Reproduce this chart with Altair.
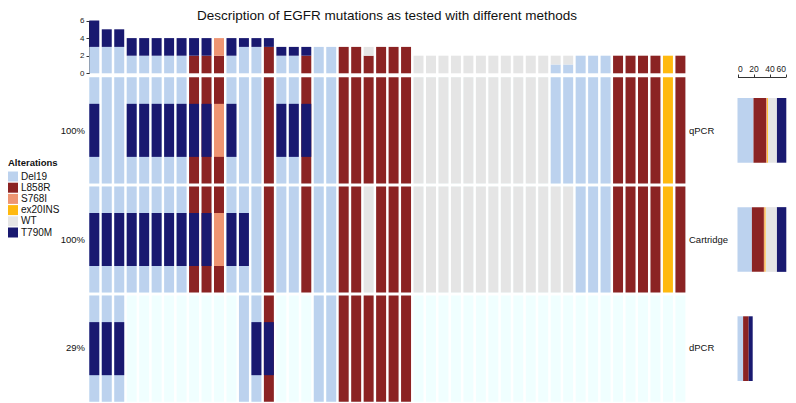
import altair as alt
import pandas as pd

# ---------------- data ----------------
alterations = ["Del19", "L858R", "S768I", "ex20INS", "WT", "T790M"]
alt_colors = ["#BCD2EE", "#8B2323", "#EE9572", "#FFB90F", "#E5E5E5", "#191970"]
empty_color = "#F0FFFF"

methods = ["qPCR", "Cartridge", "dPCR"]
tested_pct = ["100%", "100%", "29%"]
samples = [f"P{i + 1}" for i in range(48)]

D, L, S, X, W, T, N = "Del19", "L858R", "S768I", "ex20INS", "WT", "T790M", ""

# main call of each sample, per method
qpcr_main = [D, D, D, D, D, D, D, D, L, L, L, D, D, D, L, D, D, L, D, D, L, L, L, L, L, L] \
    + [W] * 11 + [D] * 5 + [L] * 4 + [X, L]
cart_main = [D] * 8 + [L, L, L, D, D, D, L, D, D, L, D, D, L, L, W, L, L, L] \
    + [W] * 13 + [D] * 3 + [L] * 4 + [X, L]
dpcr_main = [D, D, D] + [N] * 9 + [D, D, L, N, N, N, D, D] + [L] * 6 + [N] * 22

# second (co-occurring) call of each sample, per method
qpcr_band = [T, N, N, T, T, T, T, T, T, T, S, T, N, N, N, T, T, T] + [N] * 30
cart_band = [T] * 10 + [S, T, T] + [N] * 35
dpcr_band = [T, T, T] + [N] * 10 + [T, T] + [N] * 33

main_calls = {"qPCR": qpcr_main, "Cartridge": cart_main, "dPCR": dpcr_main}
band_calls = {"qPCR": qpcr_band, "Cartridge": cart_band, "dPCR": dpcr_band}

rows = []
for m in methods:
    for i, s in enumerate(samples):
        rows.append(dict(sample=s, method=m, main=main_calls[m][i], band=band_calls[m][i]))
cells = pd.DataFrame(rows)

calls = pd.concat([
    cells[["sample", "method", "main"]].rename(columns={"main": "alteration"}),
    cells[["sample", "method", "band"]].rename(columns={"band": "alteration"}),
])
calls = calls[calls["alteration"] != ""].copy()
calls["ord"] = calls["alteration"].map(alterations.index)
top_counts = calls.groupby(["sample", "alteration", "ord"]).size().reset_index(name="n")
side_counts = calls.groupby(["method", "alteration", "ord"]).size().reset_index(name="n")
pct_df = pd.DataFrame({"method": methods, "pct": tested_pct})

# ---------------- scales ----------------
FONT = "Liberation Sans"
x_cols = alt.Scale(domain=samples, range=[81.3, 677.4], paddingInner=0.2, paddingOuter=0)
y_rows = alt.Scale(domain=methods, range=[69.3, 393.7], paddingInner=0.028, paddingOuter=0)
y_top = alt.Scale(domain=[0, 6], range=[65.3, 12.5], nice=False)
x_side = alt.Scale(domain=[0, 60], range=[729.5, 777.5], nice=False)
cscale = alt.Scale(domain=alterations, range=alt_colors)

xc = alt.X("sample:N", scale=x_cols, axis=None)
yr = alt.Y("method:N", scale=y_rows, axis=None)

bg = alt.Chart(cells).mark_rect(color=empty_color).encode(x=xc, y=yr)

main = alt.Chart(cells).transform_filter("datum.main != ''").mark_rect().encode(
    x=xc, y=yr,
    color=alt.Color("main:N", scale=cscale, legend=alt.Legend(
        title="Alterations", orient="none", legendX=0, legendY=150,
        titleFont=FONT, titleFontSize=9.5, titleFontWeight="bold", titleColor="#111",
        titlePadding=4, labelFont=FONT, labelFontSize=10, labelColor="#111",
        symbolType="square", symbolSize=100, symbolStrokeWidth=0, symbolOpacity=1,
        rowPadding=1.2, labelOffset=3)),
)

band = alt.Chart(cells).transform_filter("datum.band != ''").mark_bar(height={"band": 0.5}).encode(
    x=xc, y=yr, color=alt.Color("band:N", scale=cscale, legend=None),
)

top = alt.Chart(top_counts).mark_bar().encode(
    x=xc,
    y=alt.Y("n:Q", stack="zero", scale=y_top, title=None,
            axis=alt.Axis(orient="left", offset=-81, values=[0, 2, 4, 6], grid=False,
                          tickSize=3, labelFontSize=8, labelFont=FONT, labelColor="#222",
                          domainColor="#333", tickColor="#333", labelPadding=2)),
    color=alt.Color("alteration:N", scale=cscale, legend=None),
    order=alt.Order("ord:Q"),
)

side = alt.Chart(side_counts).mark_bar(height={"band": 0.61}).encode(
    x=alt.X("n:Q", stack="zero", scale=x_side, title=None,
            axis=alt.Axis(orient="top", offset=-69, values=[0, 20, 40, 60], grid=False,
                          tickSize=3, labelFontSize=8.5, labelFont=FONT, labelColor="#222",
                          domainColor="#333", tickColor="#333", labelPadding=1)),
    y=yr,
    color=alt.Color("alteration:N", scale=cscale, legend=None),
    order=alt.Order("ord:Q"),
)

pct_text = alt.Chart(pct_df).mark_text(align="right", baseline="middle", font=FONT,
                                       fontSize=9.5, color="#111").encode(
    x=alt.value(77), y=yr, text="pct:N")

name_text = alt.Chart(pct_df).mark_text(align="left", baseline="middle", font=FONT,
                                        fontSize=9.5, color="#111").encode(
    x=alt.value(681), y=yr, text="method:N")

chart = alt.layer(bg, main, band, top, side, pct_text, name_text).resolve_scale(
    x="independent", y="independent", color="independent"
).properties(
    width=780, height=395, padding=0,
    autosize=alt.AutoSizeParams(type="none"),
    title=alt.TitleParams("Description of EGFR mutations as tested with different methods",
                          font=FONT, fontSize=13.5, fontWeight="normal", color="#111",
                          anchor="middle", frame="group", offset=-14.5, dx=-11),
).configure_view(stroke=None)

chart.save("out.html", embed_options={"renderer": "svg", "actions": False})
